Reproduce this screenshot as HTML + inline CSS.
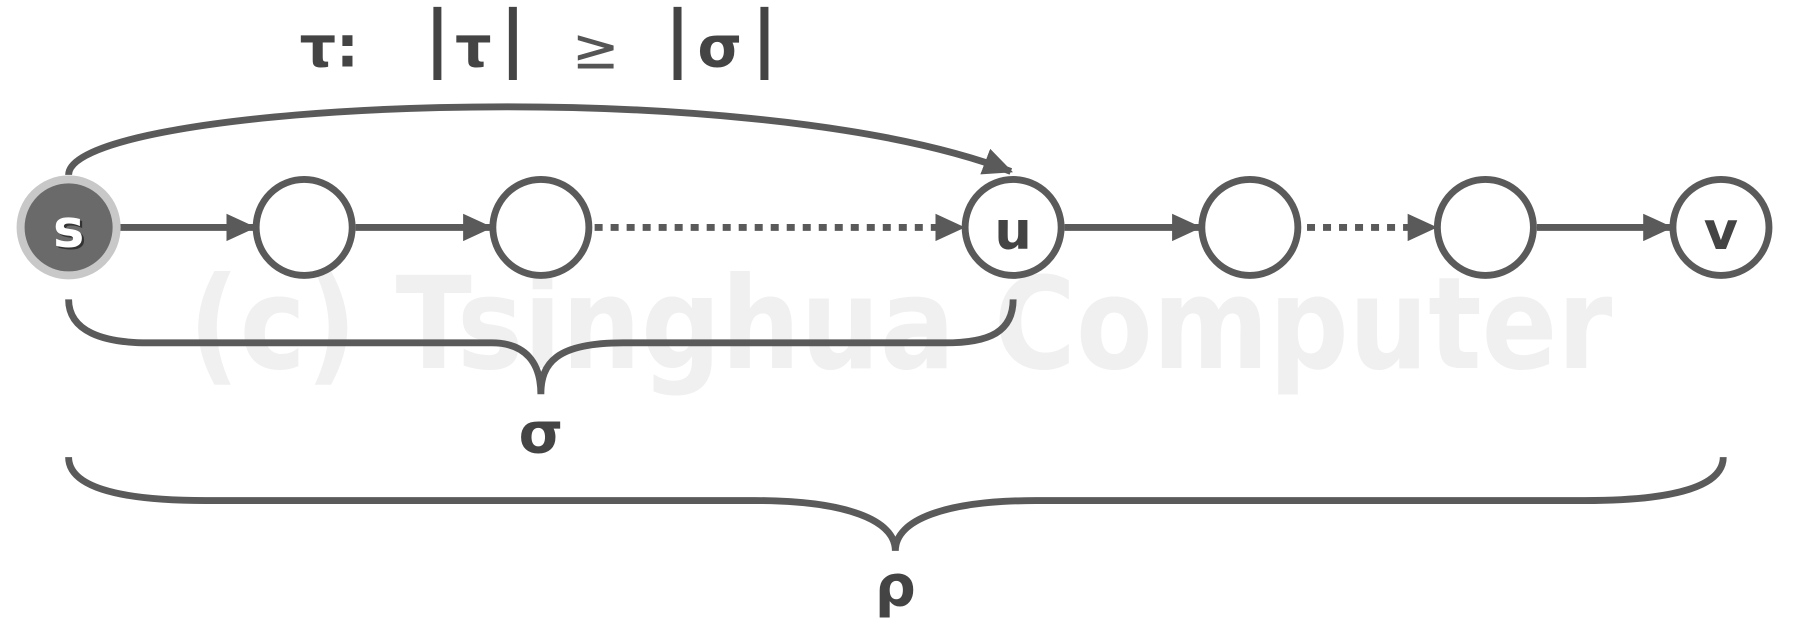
<!DOCTYPE html>
<html><head><meta charset="utf-8"><style>
html,body{margin:0;padding:0;background:#fff;width:1793px;height:632px;overflow:hidden}
svg{display:block}
</style></head><body>
<svg width="1793" height="632" viewBox="0 0 1568 553" preserveAspectRatio="none" xmlns="http://www.w3.org/2000/svg">
<defs>
<marker id="ah" markerWidth="26" markerHeight="24" refX="24" refY="12" orient="auto" markerUnits="userSpaceOnUse"><path d="M0,0 L26,12 L0,24 Z" fill="#5a5a5a"/></marker>
</defs>
<text x="165" y="322" textLength="1245" lengthAdjust="spacingAndGlyphs" font-family="DejaVu Sans, sans-serif" font-weight="bold" font-size="112" fill="#f0f0f0">(c) Tsinghua Computer</text>
<g font-family="DejaVu Sans, sans-serif" font-weight="bold" fill="#444">
<text x="262" y="58" font-size="50">τ:</text>
<rect x="379" y="6" width="7" height="64" fill="#444"/>
<text x="398" y="58" font-size="50">τ</text>
<rect x="445" y="6" width="7" height="64" fill="#444"/>
<text x="500" y="60" font-size="50" font-weight="normal" fill="#555">≥</text>
<rect x="589" y="6" width="7" height="64" fill="#444"/>
<text x="610" y="58" font-size="50">σ</text>
<rect x="665" y="6" width="7" height="64" fill="#444"/>
</g>
<g stroke="#5a5a5a" stroke-width="6" fill="none">
<path d="M60,153 C60,90 650,60 884,150" marker-end="url(#ah)"/>
<line x1="104" y1="199" x2="222" y2="199" marker-end="url(#ah)"/>
<line x1="311" y1="199" x2="429" y2="199" marker-end="url(#ah)"/>
<line x1="520" y1="199" x2="842" y2="199" stroke-dasharray="7,7" marker-end="url(#ah)"/>
<line x1="931" y1="199" x2="1049" y2="199" marker-end="url(#ah)"/>
<line x1="1143" y1="199" x2="1255" y2="199" stroke-dasharray="7,7" marker-end="url(#ah)"/>
<line x1="1344" y1="199" x2="1461" y2="199" marker-end="url(#ah)"/>
<path d="M60,262 C60,290 90,300 130,300 L430,300 C460,300 473,318 473,345 C473,318 486,300 545,300 L826,300 C866,300 886,290 886,262"/>
<path d="M60,400 C60,425 100,438 180,438 L660,438 C740,438 783,455 783,482 C783,455 826,438 906,438 L1386,438 C1466,438 1507,425 1507,400"/>
</g>
<circle cx="60" cy="199" r="42" fill="#6a6a6a" stroke="#c8c8c8" stroke-width="7"/>
<g fill="#fff" stroke="#5a5a5a" stroke-width="6">
<circle cx="266" cy="199" r="42"/>
<circle cx="473" cy="199" r="42"/>
<circle cx="886" cy="199" r="42"/>
<circle cx="1093" cy="199" r="42"/>
<circle cx="1299" cy="199" r="42"/>
<circle cx="1505" cy="199" r="42"/>
</g>
<g font-family="DejaVu Sans, sans-serif" font-weight="bold" font-size="46" text-anchor="middle">
<text x="62" y="218" fill="#333">s</text>
<text x="60" y="216" fill="#fff">s</text>
<text x="886" y="218" fill="#444">u</text>
<text x="1505" y="218" fill="#444">v</text>
</g>
<text x="473" y="396" text-anchor="middle" font-family="DejaVu Sans, sans-serif" font-weight="bold" font-size="50" fill="#444">σ</text>
<text x="783" y="530" text-anchor="middle" font-family="DejaVu Sans, sans-serif" font-weight="bold" font-size="50" fill="#444">ρ</text>
</svg>
</body></html>
